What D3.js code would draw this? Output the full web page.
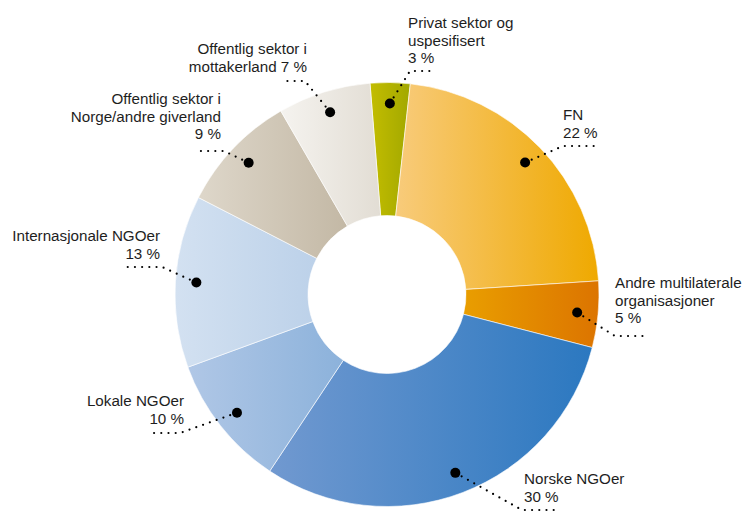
<!DOCTYPE html>
<html lang="no">
<head>
<meta charset="UTF-8">
<title>Fordeling etter partner</title>
<script src="https://d3js.org/d3.v7.min.js"></script>
<style>
  body { margin: 0; background: #fff; }
  .lbl { font-family: "Liberation Sans", Arial, sans-serif; font-size: 15.2px; fill: #1e1e1e; }
  .leader { fill: none; stroke: #000; stroke-width: 2.2; stroke-linecap: round; stroke-dasharray: 0 7.2; }
</style>
</head>
<body>
<svg width="747" height="512"></svg>
<script>
// data, clockwise from the top
const categories = [
  "Privat sektor og uspesifisert",
  "FN",
  "Andre multilaterale organisasjoner",
  "Norske NGOer",
  "Lokale NGOer",
  "Internasjonale NGOer",
  "Offentlig sektor i Norge/andre giverland",
  "Offentlig sektor i mottakerland"
];
const shares = [3, 22, 5, 30, 10, 13, 9, 7];

// label text, one entry per line
const labelLines = [
  ["Privat sektor og", "uspesifisert", "3 %"],
  ["FN", "22 %"],
  ["Andre multilaterale", "organisasjoner", "5 %"],
  ["Norske NGOer", "30 %"],
  ["Lokale NGOer", "10 %"],
  ["Internasjonale NGOer", "13 %"],
  ["Offentlig sektor i", "Norge/andre giverland", "9 %"],
  ["Offentlig sektor i", "mottakerland 7 %"]
];

// gradient colours (left -> right) per slice
const colorsLeft  = ["#c3bd00", "#f8cb7b", "#e99e00", "#7199d0", "#b0c7e6", "#d3e1f1", "#ded7ca", "#f5f3ef"];
const colorsRight = ["#a2a800", "#efa900", "#dc7400", "#2b78c0", "#8cb2db", "#bcd1e9", "#c3b8a5", "#e2ddd4"];

// label layout: text anchor, first baseline, elbow and end of the dotted leader
const labelLayout = [
  { x: 408, y: 28,  anchor: "start", elbow: [410, 71],  end: [434, 71] },
  { x: 563, y: 120, anchor: "start", elbow: [563, 146], end: [599, 146] },
  { x: 615, y: 288, anchor: "start", elbow: [615, 336], end: [643, 336] },
  { x: 524, y: 484, anchor: "start", elbow: [522, 510], end: [560, 510] },
  { x: 184, y: 406, anchor: "end",   elbow: [180, 433], end: [150, 433] },
  { x: 160, y: 241, anchor: "end",   elbow: [162, 267], end: [127, 267] },
  { x: 221, y: 104, anchor: "end",   elbow: [224, 151], end: [195, 151] },
  { x: 307, y: 54,  anchor: "end",   elbow: [305, 81],  end: [284, 81] }
];

const lineHeight = 17.5;
const cx = 387, cy = 294.5;
const outerR = 212, innerR = 79, markerR = 191;
const start = -4.6 * Math.PI / 180;

const svg = d3.select("svg");

const defs = svg.append("defs");
shares.forEach((_, i) => {
  const g = defs.append("linearGradient")
    .attr("id", "grad" + i)
    .attr("x1", 0).attr("y1", 0).attr("x2", 1).attr("y2", 0);
  g.append("stop").attr("offset", "0%").attr("stop-color", colorsLeft[i]);
  g.append("stop").attr("offset", "100%").attr("stop-color", colorsRight[i]);
});

const pie = d3.pie()
  .sort(null)
  .value(d => d)
  .startAngle(start)
  .endAngle(start + 2 * Math.PI);

const arcs = pie(shares);

const arc = d3.arc().innerRadius(innerR).outerRadius(outerR);
const markerArc = d3.arc().innerRadius(markerR).outerRadius(markerR);

const chart = svg.append("g").attr("transform", `translate(${cx},${cy})`);

chart.selectAll("path.slice")
  .data(arcs)
  .enter().append("path")
  .attr("class", "slice")
  .attr("d", arc)
  .attr("fill", (d, i) => `url(#grad${i})`)
  .attr("stroke", "#fff")
  .attr("stroke-width", 0.6);

// leaders (drawn in page coordinates)
arcs.forEach((d, i) => {
  const c = markerArc.centroid(d);
  const m = [c[0] + cx, c[1] + cy];
  const L = labelLayout[i];
  const path = d3.path();
  path.moveTo(m[0], m[1]);
  path.lineTo(L.elbow[0], L.elbow[1]);
  path.lineTo(L.end[0], L.end[1]);
  svg.append("path").attr("class", "leader").attr("d", path.toString());
  svg.append("circle").attr("cx", m[0]).attr("cy", m[1]).attr("r", 5).attr("fill", "#000");
});

// labels
labelLines.forEach((lines, i) => {
  const L = labelLayout[i];
  const t = svg.append("text")
    .attr("class", "lbl")
    .attr("text-anchor", L.anchor);
  lines.forEach((s, j) => {
    t.append("tspan").attr("x", L.x).attr("y", L.y + j * lineHeight).text(s);
  });
});
</script>
</body>
</html>
